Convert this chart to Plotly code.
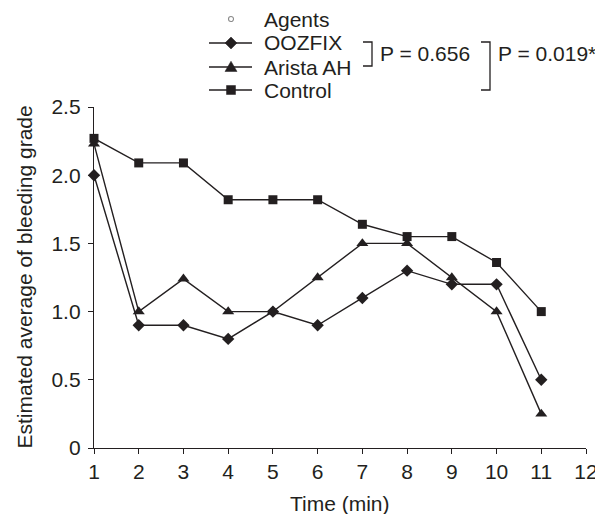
import plotly.graph_objects as go

time_min = [1, 2, 3, 4, 5, 6, 7, 8, 9, 10, 11]
oozfix = [2.0, 0.9, 0.9, 0.8, 1.0, 0.9, 1.1, 1.3, 1.2, 1.2, 0.5]
arista = [2.23, 1.0, 1.24, 1.0, 1.0, 1.25, 1.5, 1.5, 1.25, 1.0, 0.25]
control = [2.27, 2.09, 2.09, 1.82, 1.82, 1.82, 1.64, 1.55, 1.55, 1.36, 1.0]
x_ticks = list(range(1, 13))
y_ticks = [0, 0.5, 1.0, 1.5, 2.0, 2.5]
y_tick_labels = ["0", "0.5", "1.0", "1.5", "2.0", "2.5"]
legend_names = ["Agents", "OOZFIX", "Arista AH", "Control"]
p_labels = ["P = 0.656", "P = 0.019*"]

INK = "#231f20"
FONT = "Arial, Liberation Sans, sans-serif"
FS = 21

# page body has an 8px margin, so the figure is shrunk by that offset
OFF = 8
W, H = 603 - OFF, 514 - OFF
# plot area in screen pixels
X_LEFT, X_RIGHT, Y_TOP, Y_BOT = 94, 586, 107, 448
ML, MR = X_LEFT - OFF, W - (X_RIGHT - OFF)
MT, MB = Y_TOP - OFF, H - (Y_BOT - OFF)


def px(x):
    return (x - X_LEFT) / (X_RIGHT - X_LEFT)


def py(y):
    return (Y_BOT - y) / (Y_BOT - Y_TOP)


fig = go.Figure()

styles = [("diamond", 9.5), ("triangle-up", 10.5), ("square", 9)]
for vals, (sym, sz) in zip([oozfix, arista, control], styles):
    fig.add_trace(go.Scatter(x=time_min, y=vals, mode="lines+markers",
                             line=dict(color=INK, width=1.4),
                             marker=dict(symbol=sym, size=sz, color=INK),
                             cliponaxis=False, showlegend=False))

# ---- hand-built legend (layout decoration, screen-pixel positions) ----
leg_rows = [19, 43, 67, 90]
leg_x0, leg_x1, leg_mx, leg_tx = 209, 252, 231, 262

shapes = []
annotations = []


def poly(points):
    d = "M " + " L ".join(f"{px(a)} {py(b)}" for a, b in points) + " Z"
    return d


# Agents key: small open grey circle
shapes.append(dict(type="circle", xref="paper", yref="paper",
                   x0=px(leg_mx - 2.5), x1=px(leg_mx + 2.5),
                   y0=py(leg_rows[0] + 2.5), y1=py(leg_rows[0] - 2.5),
                   line=dict(color="#8a8a8a", width=1.1)))
key_paths = [
    lambda cx, cy: [(cx - 6, cy), (cx, cy - 6), (cx + 6, cy), (cx, cy + 6)],
    lambda cx, cy: [(cx - 6, cy + 4.5), (cx, cy - 5.8), (cx + 6, cy + 4.5)],
    lambda cx, cy: [(cx - 4.5, cy - 4.5), (cx + 4.5, cy - 4.5), (cx + 4.5, cy + 4.5), (cx - 4.5, cy + 4.5)],
]
for row, mk in zip(leg_rows[1:], key_paths):
    shapes.append(dict(type="line", xref="paper", yref="paper",
                       x0=px(leg_x0), x1=px(leg_x1), y0=py(row), y1=py(row),
                       line=dict(color=INK, width=1.4)))
    shapes.append(dict(type="path", xref="paper", yref="paper", path=poly(mk(leg_mx, row)),
                       fillcolor=INK, line=dict(color=INK, width=0.5)))

for name, row in zip(legend_names, leg_rows):
    annotations.append(dict(text=name, x=px(leg_tx), y=py(row), xref="paper", yref="paper",
                            xanchor="left", yanchor="middle", showarrow=False,
                            font=dict(size=FS, color=INK, family=FONT)))

brackets = [(372, 42, 66, 378), (490, 42, 90, 496)]
for (xv, y0, y1, tx), lab in zip(brackets, p_labels):
    shapes.append(dict(type="path", xref="paper", yref="paper",
                       path=f"M {px(xv-9)} {py(y0)} L {px(xv)} {py(y0)} L {px(xv)} {py(y1)} L {px(xv-9)} {py(y1)}",
                       line=dict(color=INK, width=1.3)))
    annotations.append(dict(text=lab, x=px(tx), y=py(54), xref="paper", yref="paper",
                            xanchor="left", yanchor="middle", showarrow=False,
                            font=dict(size=FS, color=INK, family=FONT)))

# axis titles
annotations.append(dict(text="Time (min)", x=0.5, xref="paper", y=py(503), yref="paper",
                        xanchor="center", yanchor="middle", showarrow=False,
                        font=dict(size=FS, color=INK, family=FONT)))
annotations.append(dict(text="Estimated average of bleeding grade", x=px(24), xref="paper",
                        y=0.5, yref="paper", textangle=-90, xanchor="center",
                        yanchor="middle", showarrow=False,
                        font=dict(size=FS, color=INK, family=FONT)))

fig.update_layout(
    width=W, height=H, margin=dict(l=ML, r=MR, t=MT, b=MB, autoexpand=False),
    paper_bgcolor="white", plot_bgcolor="white",
    font=dict(family=FONT, size=FS, color=INK),
    showlegend=False,
    shapes=shapes, annotations=annotations,
    xaxis=dict(range=[1, 12], tickvals=x_ticks, showgrid=False, zeroline=False,
               showline=True, linecolor=INK, linewidth=1.4, ticks="outside", ticklen=5,
               tickcolor=INK, tickwidth=1.4, tickfont=dict(size=FS), automargin=False),
    yaxis=dict(range=[0, 2.5], tickvals=y_ticks, ticktext=y_tick_labels, showgrid=False,
               zeroline=False, showline=True, linecolor=INK, linewidth=1.4, ticks="outside",
               ticklen=5, tickcolor=INK, tickwidth=1.4, tickfont=dict(size=FS),
               ticklabelstandoff=3, automargin=False),
)

fig.write_html("out.html")
